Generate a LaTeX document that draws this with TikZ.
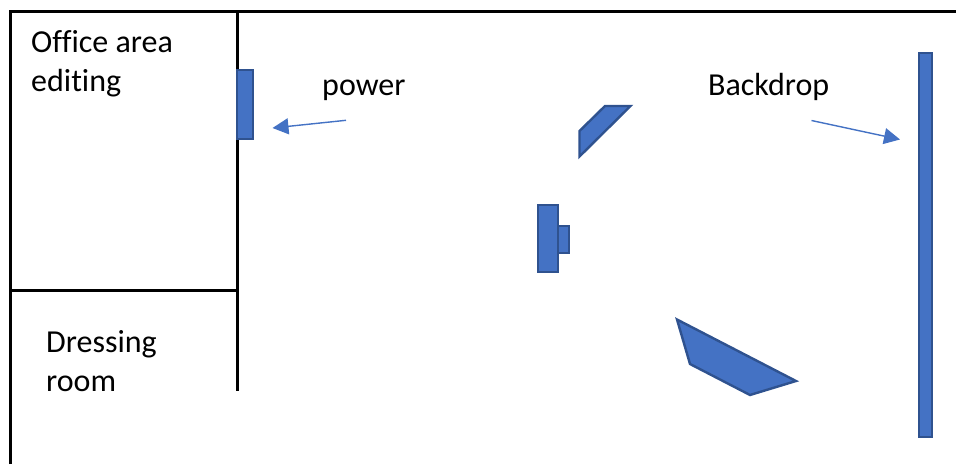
\documentclass[tikz,border=0pt]{standalone}
\usepackage{fontspec}
\setmainfont[Ligatures=NoCommon]{Carlito}
\usetikzlibrary{positioning, arrows.meta}
\definecolor{shapeblue}{HTML}{4472C4}
\definecolor{shapeedge}{HTML}{2F528F}
\tikzset{
	wall/.style={draw=black, line width=3.5pt},
	prop/.style={draw=shapeedge, fill=shapeblue, line width=2.4pt},
	propbox/.style={rectangle, prop, inner sep=0pt, outer sep=0pt},
	label/.style={inner sep=0pt, align=left, font=\fontsize{32}{39}\selectfont},
	pointer/.style={-{Stealth[length=16pt, width=16pt, inset=0pt]}, draw=shapeblue, fill=shapeblue, line width=1.4pt}
}
\begin{document}
\begin{tikzpicture}[x=1pt, y=-1pt]
			\useasboundingbox (0,0) rectangle (956,464);
			% walls
			\draw[wall] (10.5,464) -- (10.5,11.5) -- (956,11.5);
			\draw[wall] (237.5,11.5) -- (237.5,391);
			\draw[wall] (10.5,290.5) -- (237.5,290.5);
			% room names
			\node[label, anchor=north west] (Office) at (31,30) {Office area\\editing};
			\node[label, anchor=north west] (Dressing) at (46,330) {Dressing\\room};
			\node[label, anchor=base west] (Power) at (322,95) {power};
			\node[label, anchor=base west] (Backdroplabel) at (708,95) {Backdrop};
			% equipment
			\node[propbox, minimum width=16pt, minimum height=69.5pt] (Socket) at (245,104.5) {};
			\node[propbox, minimum width=13pt, minimum height=384pt] (Backdrop) at (925.5,245) {};
			\node[propbox, minimum width=20pt, minimum height=67pt] (Camera) at (548,238.5) {};
			\node[propbox, minimum width=11pt, minimum height=27pt, right=0pt of Camera, yshift=-1pt] (Lens) {};
			\draw[prop, line join=miter] (579.5,131) -- (605,106) -- (630.5,106) -- (579.5,156.5) -- cycle;
			\draw[prop, line join=miter] (677,319.5) -- (690,364) -- (750,395) -- (796,381) -- cycle;
			% pointers
			\coordinate (PowerFrom) at (346,120.3);
			\coordinate (PowerTo) at (272.5,128);
			\coordinate (BackdropFrom) at (811.5,120.5);
			\coordinate (BackdropTo) at (900,139.5);
			\draw[pointer] (PowerFrom) -- (PowerTo);
			\draw[pointer] (BackdropFrom) -- (BackdropTo);
		\end{tikzpicture}
\end{document}
